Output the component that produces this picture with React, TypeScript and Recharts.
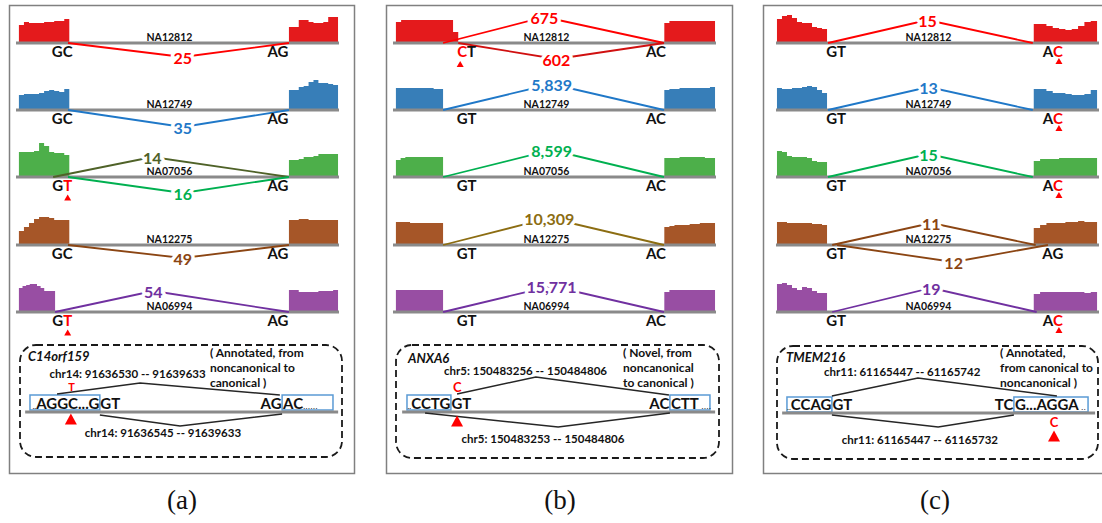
import React from "react";
import {
  ComposedChart,
  Area,
  Line,
  XAxis,
  YAxis,
  ReferenceLine,
  ReferenceDot,
  ReferenceArea,
} from "recharts";

const FONT = "Lato, 'Open Sans', Arial, sans-serif";
const SERIF = "'Liberation Serif', 'Times New Roman', serif";
const INK = "#111";
const RED = "#ff0000";
const GRAY = "#8a8a8a";
const BLUE_BOX = "#5b9bd5";

const SAMPLES = ["NA12812", "NA12749", "NA07056", "NA12275", "NA06994"];
const COVER_COLORS = ["#e41a1c", "#377eb8", "#4daf4a", "#a65628", "#984ea3"];

type Junction = { from: number; to: number; peak: number; lift: number; count: number };

// ---------- (a) C14orf159 ----------
const A_LEFT_COV = [
  [18, 21, 20, 20, 20, 21, 21, 22, 22, 24],
  [15, 16, 16, 16, 17, 19, 20, 19, 18, 21],
  [25, 25, 25, 26, 34, 31, 25, 24, 24, 22],
  [14, 18, 22, 26, 28, 28, 27, 25, 25, 25],
  [24, 26, 27, 28, 28, 26, 24, 21, 21, 21],
];
const A_RIGHT_COV = [
  [16, 16, 23, 23, 21, 20, 20, 21, 26, 26],
  [20, 20, 23, 24, 28, 30, 27, 27, 26, 25],
  [17, 17, 18, 20, 20, 21, 23, 23, 23, 23],
  [25, 25, 26, 26, 25, 25, 25, 25, 25, 25],
  [22, 22, 20, 20, 20, 20, 21, 21, 21, 22],
];
const A_LEFT_EXON = [[0.9, 16.5], [0.9, 16.5], [0.9, 16.5], [0.9, 16.5], [0.9, 12.1]];
const A_RIGHT_EXON = [[84.5, 99.7], [84.5, 99.7], [84.5, 99.7], [84.5, 99.7], [84.5, 99.7]];
const A_JUNCTIONS: Junction[][] = [
  [{ from: 16.1, to: 84.5, peak: 51.6, lift: -14, count: 25 }],
  [{ from: 16.1, to: 84.5, peak: 51.6, lift: -17, count: 35 }],
  [
    { from: 11.5, to: 84.5, peak: 42.2, lift: 20, count: 14 },
    { from: 16.1, to: 84.5, peak: 51.6, lift: -16, count: 16 },
  ],
  [{ from: 16.1, to: 84.5, peak: 51.6, lift: -13, count: 49 }],
  [{ from: 12.1, to: 84.5, peak: 42.5, lift: 21, count: 54 }],
];
const A_JUNCTION_COLORS = [["#ff0000"], ["#1f78c8"], ["#4f6228", "#00b050"], ["#8b4513"], ["#7030a0"]];
const A_DONOR = ["GC", "GC", "GT", "GC", "GT"];
const A_DONOR_ALT = [-1, -1, 1, -1, 1];
const A_ACCEPTOR = ["AG", "AG", "AG", "AG", "AG"];
const A_ACCEPTOR_ALT = [-1, -1, -1, -1, -1];
const A_SITE_X = [14.3, 81.1];
const A_MARK_X = [16.0, 0];

const A_GENE = "C14orf159";
const A_NOTE = ["( Annotated, from", "noncanonical to", "canonical )"];
const A_ARC_NAMES = ["chr14: 91636530 -- 91639633", "chr14: 91636545 -- 91639633"];
const A_ARC_PATHS = [
  [[11.5, 18], [37.3, 29], [80.7, 17]],
  [[24.8, -3], [49.7, -14], [81.4, -2]],
];
const A_SEQ = ["..", "AGGC...G", "GT", "AG", "AC", "......"];
const A_ALT_BASE = "T";

// ---------- (b) ANXA6 ----------
const B_LEFT_COV = [
  [21, 23, 23, 23, 23, 23, 23, 23, 23, 23, 23, 11],
  [22, 22, 22, 22, 22, 22, 22, 22, 21, 21],
  [17, 19, 20, 20, 20, 20, 20, 20, 20, 20],
  [23, 23, 23, 22, 22, 22, 22, 22, 22, 22],
  [22, 22, 22, 22, 22, 22, 22, 22, 22, 22],
];
const B_RIGHT_COV = [
  [20, 22, 22, 22, 22, 22, 22, 22, 22, 22],
  [20, 21, 21, 22, 22, 22, 22, 22, 22, 23],
  [19, 19, 19, 20, 20, 20, 20, 20, 19, 19],
  [18, 19, 20, 20, 20, 21, 21, 22, 22, 22],
  [20, 22, 22, 22, 22, 22, 22, 22, 22, 22],
];
const B_LEFT_EXON = [[0.9, 20.2], [0.9, 15.5], [0.9, 15.5], [0.9, 15.5], [0.9, 15.5]];
const B_RIGHT_EXON = [[84.0, 99.7], [84.0, 99.7], [84.0, 99.7], [84.0, 99.7], [84.0, 99.7]];
const B_JUNCTIONS: Junction[][] = [
  [
    { from: 15.5, to: 83.9, peak: 46.9, lift: 26, count: 675 },
    { from: 20.2, to: 83.9, peak: 50.6, lift: -16, count: 602 },
  ],
  [{ from: 15.5, to: 83.9, peak: 49.1, lift: 26, count: 5839 }],
  [{ from: 15.5, to: 83.9, peak: 49.1, lift: 27, count: 8599 }],
  [{ from: 15.5, to: 83.9, peak: 48.4, lift: 27, count: 10309 }],
  [{ from: 15.5, to: 83.9, peak: 49.1, lift: 26, count: 15771 }],
];
const B_JUNCTION_COLORS = [["#ff0000", "#d01010"], ["#1f78c8"], ["#00b050"], ["#8c6d12"], ["#7030a0"]];
const B_DONOR = ["CT", "GT", "GT", "GT", "GT"];
const B_DONOR_ALT = [0, -1, -1, -1, -1];
const B_ACCEPTOR = ["AC", "AC", "AC", "AC", "AC"];
const B_ACCEPTOR_ALT = [-1, -1, -1, -1, -1];
const B_SITE_X = [22.8, 81.4];
const B_MARK_X = [20.8, 0];

const B_GENE = "ANXA6";
const B_NOTE = ["( Novel, from", "noncanonical", "to canonical )"];
const B_ARC_NAMES = ["chr5: 150483256 -- 150484806", "chr5: 150483253 -- 150484806"];
const B_ARC_PATHS = [
  [[18.9, 18], [43.3, 35], [84.5, 17]],
  [[9.0, -1], [50.2, -15], [84.8, -1]],
];
const B_SEQ = ["..", "CCTG", "GT", "AC", "CTT", " ...."];
const B_ALT_BASE = "C";

// ---------- (c) TMEM216 ----------
const C_LEFT_COV = [
  [24, 27, 28, 25, 21, 20, 20, 16, 15, 14],
  [22, 21, 21, 22, 22, 23, 24, 23, 20, 17],
  [26, 25, 21, 20, 20, 20, 19, 16, 15, 15],
  [23, 23, 22, 22, 22, 22, 22, 21, 21, 20],
  [28, 29, 27, 24, 22, 25, 24, 21, 19, 19],
];
const C_RIGHT_COV = [
  [19, 19, 17, 15, 14, 13, 14, 17, 21, 22],
  [21, 21, 19, 17, 17, 16, 15, 15, 16, 20],
  [16, 18, 18, 18, 19, 19, 19, 19, 19, 19],
  [17, 20, 22, 22, 22, 23, 23, 24, 23, 23],
  [18, 20, 20, 20, 20, 20, 20, 20, 19, 20],
];
const C_LEFT_EXON = [[0.3, 15.8], [0.3, 15.8], [0.3, 15.8], [0.3, 15.8], [0.3, 15.8]];
const C_RIGHT_EXON = [[79.8, 99.4], [79.8, 99.4], [79.8, 99.4], [79.8, 99.4], [79.8, 99.4]];
const C_JUNCTIONS: Junction[][] = [
  [{ from: 16.1, to: 79.5, peak: 46.9, lift: 23, count: 15 }],
  [{ from: 16.1, to: 79.5, peak: 47.2, lift: 23, count: 13 }],
  [{ from: 16.1, to: 79.5, peak: 47.2, lift: 23, count: 15 }],
  [
    { from: 17.4, to: 80.4, peak: 48.1, lift: 22, count: 11 },
    { from: 18.9, to: 84.2, peak: 55.0, lift: -17, count: 12 },
  ],
  [{ from: 17.4, to: 80.7, peak: 48.1, lift: 24, count: 19 }],
];
const C_JUNCTION_COLORS = [["#ff0000"], ["#1f78c8"], ["#00b050"], ["#8b4513", "#8b4513"], ["#7030a0"]];
const C_DONOR = ["GT", "GT", "GT", "GT", "GT"];
const C_DONOR_ALT = [-1, -1, -1, -1, -1];
const C_ACCEPTOR = ["AC", "AC", "AC", "AG", "AC"];
const C_ACCEPTOR_ALT = [1, 1, 1, -1, 1];
const C_SITE_X = [18.6, 85.7];
const C_MARK_X = [0, 87.6];

const C_GENE = "TMEM216";
const C_NOTE = ["( Annotated,", "from canonical to", "noncanonical )"];
const C_ARC_NAMES = ["chr11: 61165447 -- 61165742", "chr11: 61165447 -- 61165732"];
const C_ARC_PATHS = [
  [[17.1, 17], [43.9, 35], [87.2, 17]],
  [[17.1, -2], [50.2, -14], [73.8, -2]],
];
const C_SEQ = ["..", "CCAG", "GT", "TC", "G...AGGA", " .."];
const C_ALT_BASE = "C";

// ---------- layout ----------
const TRACK_LEFT = [16, 393, 776];
const TRACK_W = 323;
const BASELINE_Y = [43, 110, 177, 245, 312];
const TRACK_UP = 38;
const TRACK_DOWN = 26;
const SAMPLE_X = [47.5, 47.5, 47.2];
const MARK_Y = [-20.5, -21, -18];

const FRAME_X = [9, 386, 763];
const FRAME_W = [345, 346, 345];
const CAPTIONS = ["(a)", "(b)", "(c)"];
const CAPTION_X = [182, 560, 935];

const BOX = [
  { x: 20, y: 345, w: 322, h: 112 },
  { x: 396, y: 345, w: 323, h: 113 },
  { x: 777, y: 346, w: 321, h: 113 },
];
const BOX_UP = 67;
const GENE_AT = [[2.5, 56], [3.7, 54], [2.8, 56]];
const NOTE_AT = [[59.0, 60], [70.3, 60], [69.5, 61]];
const ARC_LABEL_AT = [
  [[33.4, 39], [44.4, -20]],
  [[40.1, 42], [45.5, -26]],
  [[39.0, 42], [44.5, -26]],
];
const SEQ_BOXES = [
  [[3.1, 24.8], [81.4, 97.2]],
  [[3.4, 17.0], [84.8, 97.2]],
  [[3.1, 17.1], [73.8, 96.9]],
];
const SEQ_BOX_Y = [[2, 17], [2, 17], [1, 16]];
const DIAGRAM_LINE = [[1.6, 98.8], [1.9, 98.8], [1.6, 99.1]];
const ALT_BASE_AT = [[16.0, 25.5], [19.0, 25.5], [86.3, -9]];
const ALT_BASE_SIZE = [11, 13, 13];
const ALT_MARK_AT = [[15.8, -7], [18.9, -9], [86.3, -23]];

type PanelSpec = {
  leftCov: number[][];
  rightCov: number[][];
  leftExon: number[][];
  rightExon: number[][];
  junctions: Junction[][];
  junctionColors: string[][];
  donor: string[];
  donorAlt: number[];
  acceptor: string[];
  acceptorAlt: number[];
  siteX: number[];
  markX: number[];
  gene: string;
  note: string[];
  arcNames: string[];
  arcPaths: number[][][];
  seq: string[];
  altBase: string;
};

const PANELS: PanelSpec[] = [
  {
    leftCov: A_LEFT_COV, rightCov: A_RIGHT_COV, leftExon: A_LEFT_EXON, rightExon: A_RIGHT_EXON,
    junctions: A_JUNCTIONS, junctionColors: A_JUNCTION_COLORS,
    donor: A_DONOR, donorAlt: A_DONOR_ALT, acceptor: A_ACCEPTOR, acceptorAlt: A_ACCEPTOR_ALT,
    siteX: A_SITE_X, markX: A_MARK_X,
    gene: A_GENE, note: A_NOTE, arcNames: A_ARC_NAMES, arcPaths: A_ARC_PATHS, seq: A_SEQ, altBase: A_ALT_BASE,
  },
  {
    leftCov: B_LEFT_COV, rightCov: B_RIGHT_COV, leftExon: B_LEFT_EXON, rightExon: B_RIGHT_EXON,
    junctions: B_JUNCTIONS, junctionColors: B_JUNCTION_COLORS,
    donor: B_DONOR, donorAlt: B_DONOR_ALT, acceptor: B_ACCEPTOR, acceptorAlt: B_ACCEPTOR_ALT,
    siteX: B_SITE_X, markX: B_MARK_X,
    gene: B_GENE, note: B_NOTE, arcNames: B_ARC_NAMES, arcPaths: B_ARC_PATHS, seq: B_SEQ, altBase: B_ALT_BASE,
  },
  {
    leftCov: C_LEFT_COV, rightCov: C_RIGHT_COV, leftExon: C_LEFT_EXON, rightExon: C_RIGHT_EXON,
    junctions: C_JUNCTIONS, junctionColors: C_JUNCTION_COLORS,
    donor: C_DONOR, donorAlt: C_DONOR_ALT, acceptor: C_ACCEPTOR, acceptorAlt: C_ACCEPTOR_ALT,
    siteX: C_SITE_X, markX: C_MARK_X,
    gene: C_GENE, note: C_NOTE, arcNames: C_ARC_NAMES, arcPaths: C_ARC_PATHS, seq: C_SEQ, altBase: C_ALT_BASE,
  },
];

// coverage bins -> step series
function steps(vals: number[], span: number[]) {
  const w = (span[1] - span[0]) / vals.length;
  const pts = vals.map((v, i) => ({ x: span[0] + i * w, v }));
  pts.push({ x: span[1], v: vals[vals.length - 1] });
  return pts;
}

// text / glyph anchored at a data point
function note(key: string, x: number, y: number, draw: (cx: number, cy: number) => React.ReactElement) {
  return (
    <ReferenceDot
      key={key}
      x={x}
      y={y}
      r={1}
      fill="none"
      stroke="none"
      ifOverflow="visible"
      shape={(p: any) => draw(p.cx, p.cy)}
    />
  );
}

const triangle = (w: number, h: number) => (cx: number, cy: number) => (
  <polygon
    points={`${cx - w / 2},${cy + h / 2} ${cx + w / 2},${cy + h / 2} ${cx},${cy - h / 2}`}
    fill={RED}
  />
);

const siteText = (seq: string, alt: number) =>
  seq.split("").map((ch, k) => (
    <tspan key={k} fill={k === alt ? RED : INK}>
      {ch}
    </tspan>
  ));

function Track({ p, k, i }: { p: PanelSpec; k: number; i: number }) {
  const top = BASELINE_Y[i] - TRACK_UP;
  const h = TRACK_UP + TRACK_DOWN;
  const labelY = -14;
  return (
    <div style={{ position: "absolute", left: TRACK_LEFT[k], top, width: TRACK_W, height: h }}>
      <ComposedChart width={TRACK_W} height={h} margin={{ top: 0, right: 0, bottom: 0, left: 0 }}>
        <XAxis type="number" dataKey="x" domain={[0, 100]} hide allowDataOverflow />
        <YAxis type="number" domain={[-TRACK_DOWN, TRACK_UP]} hide allowDataOverflow />
        <Area
          data={steps(p.leftCov[i], p.leftExon[i])}
          dataKey="v"
          type="stepAfter"
          baseValue={0}
          stroke="none"
          fill={COVER_COLORS[i]}
          fillOpacity={1}
          activeDot={false}
          isAnimationActive={false}
        />
        <Area
          data={steps(p.rightCov[i], p.rightExon[i])}
          dataKey="v"
          type="stepAfter"
          baseValue={0}
          stroke="none"
          fill={COVER_COLORS[i]}
          fillOpacity={1}
          activeDot={false}
          isAnimationActive={false}
        />
        <ReferenceLine y={0} stroke={GRAY} strokeWidth={3} />
        {p.junctions[i].map((j, n) => (
          <Line
            key={`j${n}`}
            data={[
              { x: j.from, v: 0 },
              { x: j.peak, v: j.lift },
              { x: j.to, v: 0 },
            ]}
            dataKey="v"
            type="linear"
            stroke={p.junctionColors[i][n]}
            strokeWidth={1.8}
            dot={false}
            activeDot={false}
            isAnimationActive={false}
          />
        ))}
        {note("sample", SAMPLE_X[k], 2.5, (cx, cy) => (
          <text x={cx} y={cy} textAnchor="middle" fontFamily={FONT} fontSize={10.5} fontWeight={700} fill={INK}>
            {SAMPLES[i]}
          </text>
        ))}
        {note("donor", p.siteX[0], labelY, (cx, cy) => (
          <text x={cx} y={cy} textAnchor="middle" fontFamily={FONT} fontSize={15} fontWeight={700}>
            {siteText(p.donor[i], p.donorAlt[i])}
          </text>
        ))}
        {note("acceptor", p.siteX[1], labelY, (cx, cy) => (
          <text x={cx} y={cy} textAnchor="middle" fontFamily={FONT} fontSize={15} fontWeight={700}>
            {siteText(p.acceptor[i], p.acceptorAlt[i])}
          </text>
        ))}
        {p.donorAlt[i] >= 0 && note("dmark", p.markX[0], MARK_Y[k], triangle(7, 6))}
        {p.acceptorAlt[i] >= 0 && note("amark", p.markX[1], MARK_Y[k], triangle(7, 6))}
        {p.junctions[i].map((j, n) =>
          note(`c${n}`, j.peak, j.lift, (cx, cy) => (
            <text
              x={cx}
              y={cy}
              textAnchor="middle"
              dominantBaseline="central"
              fontFamily={FONT}
              fontSize={16}
              fontWeight={700}
              fill={n === 1 && k === 1 ? RED : p.junctionColors[i][n]}
              stroke="#fff"
              strokeWidth={7}
              strokeLinejoin="round"
              paintOrder="stroke"
            >
              {j.count.toLocaleString("en-US")}
            </text>
          ))
        )}
      </ComposedChart>
    </div>
  );
}

function Diagram({ p, k }: { p: PanelSpec; k: number }) {
  const b = BOX[k];
  const [box1, box2] = SEQ_BOXES[k];
  const [by0, by1] = SEQ_BOX_Y[k];
  const seqY = 3;
  const big = { fontFamily: FONT, fontSize: 15, fontWeight: 700, fill: INK } as const;
  const small = { fontSize: 8, fontWeight: 400 } as const;
  return (
    <div style={{ position: "absolute", left: b.x, top: b.y, width: b.w, height: b.h }}>
      <ComposedChart width={b.w} height={b.h} margin={{ top: 0, right: 0, bottom: 0, left: 0 }}>
        <XAxis type="number" dataKey="x" domain={[0, 100]} hide allowDataOverflow />
        <YAxis type="number" domain={[BOX_UP - b.h, BOX_UP]} hide allowDataOverflow />
        <ReferenceArea x1={box1[0]} x2={box1[1]} y1={by0} y2={by1} fill="none" stroke={BLUE_BOX} strokeWidth={1.5} ifOverflow="visible" />
        <ReferenceArea x1={box2[0]} x2={box2[1]} y1={by0} y2={by1} fill="none" stroke={BLUE_BOX} strokeWidth={1.5} ifOverflow="visible" />
        <ReferenceLine
          segment={[
            { x: DIAGRAM_LINE[k][0], y: 0 },
            { x: DIAGRAM_LINE[k][1], y: 0 },
          ]}
          stroke={GRAY}
          strokeWidth={3}
        />
        {p.arcPaths.map((path, n) => (
          <Line
            key={`arc${n}`}
            data={path.map(([x, v]) => ({ x, v }))}
            dataKey="v"
            type="linear"
            stroke="#262626"
            strokeWidth={1.5}
            dot={false}
            activeDot={false}
            isAnimationActive={false}
          />
        ))}
        {note("gene", GENE_AT[k][0], GENE_AT[k][1], (cx, cy) => (
          <text x={cx} y={cy} dominantBaseline="central" fontFamily={FONT} fontSize={13} fontWeight={700} fontStyle="italic" fill={INK}>
            {p.gene}
          </text>
        ))}
        {p.note.map((line, n) =>
          note(`note${n}`, NOTE_AT[k][0], NOTE_AT[k][1] - n * 15, (cx, cy) => (
            <text x={cx} y={cy} dominantBaseline="central" fontFamily={FONT} fontSize={12} fontWeight={700} fill={INK}>
              {line}
            </text>
          ))
        )}
        {p.arcNames.map((name, n) =>
          note(`arcname${n}`, ARC_LABEL_AT[k][n][0], ARC_LABEL_AT[k][n][1], (cx, cy) => (
            <text x={cx} y={cy} textAnchor="middle" dominantBaseline="central" fontFamily={FONT} fontSize={11.5} fontWeight={700} fill={INK}>
              {name}
            </text>
          ))
        )}
        {note("seq1", box1[1], seqY, (cx, cy) => (
          <text x={cx - 0.5} y={cy} textAnchor="end" {...big}>
            <tspan {...small}>{p.seq[0]}</tspan>
            <tspan>{p.seq[1]}</tspan>
          </text>
        ))}
        {note("seq2", box1[1], seqY, (cx, cy) => (
          <text x={cx + 0.5} y={cy} textAnchor="start" {...big}>
            {p.seq[2]}
          </text>
        ))}
        {note("seq3", box2[0], seqY, (cx, cy) => (
          <text x={cx - 0.5} y={cy} textAnchor="end" {...big}>
            {p.seq[3]}
          </text>
        ))}
        {note("seq4", box2[0], seqY, (cx, cy) => (
          <text x={cx + 1} y={cy} textAnchor="start" {...big}>
            <tspan>{p.seq[4]}</tspan>
            <tspan {...small} letterSpacing={0.6}>
              {p.seq[5]}
            </tspan>
          </text>
        ))}
        {note("altbase", ALT_BASE_AT[k][0], ALT_BASE_AT[k][1], (cx, cy) => (
          <text x={cx} y={cy} textAnchor="middle" dominantBaseline="central" fontFamily={FONT} fontSize={ALT_BASE_SIZE[k]} fontWeight={700} fill={RED}>
            {p.altBase}
          </text>
        ))}
        {note("altmark", ALT_MARK_AT[k][0], ALT_MARK_AT[k][1], triangle(12, 11))}
      </ComposedChart>
    </div>
  );
}

export default function App() {
  return (
    <div
      style={{
        position: "absolute",
        left: 0,
        top: 0,
        width: 1102,
        height: 523,
        background: "#fff",
        overflow: "hidden",
      }}
    >
      <style>{`.recharts-surface{overflow:visible}`}</style>
      <svg width={1102} height={523} style={{ position: "absolute", left: 0, top: 0 }}>
        {FRAME_X.map((x, k) => (
          <rect key={`f${k}`} x={x + 0.5} y={5.5} width={FRAME_W[k]} height={468} fill="none" stroke="#808080" strokeWidth={1.5} />
        ))}
        {BOX.map((b, k) => (
          <rect
            key={`b${k}`}
            x={b.x}
            y={b.y}
            width={b.w}
            height={b.h}
            rx={16}
            fill="none"
            stroke="#1a1a1a"
            strokeWidth={1.8}
            strokeDasharray="7 4"
          />
        ))}
        {CAPTIONS.map((c, k) => (
          <text key={c} x={CAPTION_X[k]} y={509} textAnchor="middle" fontFamily={SERIF} fontSize={27} fill={INK}>
            {c}
          </text>
        ))}
      </svg>
      {PANELS.map((p, k) => (
        <React.Fragment key={k}>
          {SAMPLES.map((_, i) => (
            <Track key={i} p={p} k={k} i={i} />
          ))}
          <Diagram p={p} k={k} />
        </React.Fragment>
      ))}
    </div>
  );
}
